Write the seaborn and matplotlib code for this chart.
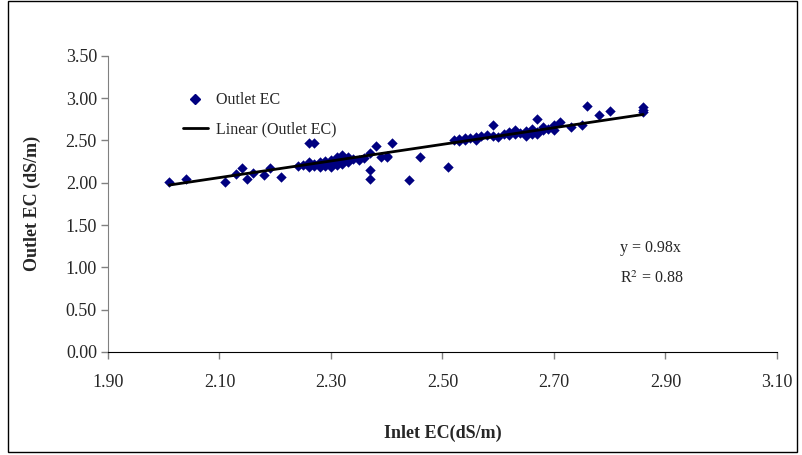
import numpy as np
import pandas as pd
import seaborn as sns
import matplotlib.pyplot as plt
from matplotlib.patches import Rectangle
from matplotlib.lines import Line2D

# Inlet / outlet EC readings (dS/m)
inlet_ec = [2.01, 2.04, 2.11, 2.13, 2.14, 2.15, 2.16, 2.18, 2.19, 2.21,
            2.24, 2.25, 2.26, 2.26, 2.26, 2.27, 2.27, 2.27, 2.28, 2.28,
            2.28, 2.29, 2.29, 2.29, 2.30, 2.30, 2.30, 2.31, 2.31, 2.31,
            2.32, 2.32, 2.32, 2.33, 2.33, 2.34, 2.35, 2.36, 2.37, 2.37,
            2.37, 2.38, 2.39, 2.40, 2.40, 2.41, 2.44, 2.46, 2.51, 2.52,
            2.53, 2.53, 2.54, 2.54, 2.55, 2.56, 2.56, 2.57, 2.58, 2.59,
            2.59, 2.60, 2.61, 2.62, 2.62, 2.63, 2.63, 2.64, 2.65, 2.65,
            2.66, 2.66, 2.67, 2.67, 2.67, 2.68, 2.68, 2.69, 2.70, 2.70,
            2.71, 2.73, 2.75, 2.76, 2.78, 2.80, 2.86, 2.86, 2.86]
outlet_ec = [2.01, 2.04, 2.01, 2.10, 2.17, 2.04, 2.12, 2.09, 2.17, 2.07,
             2.20, 2.21, 2.47, 2.25, 2.18, 2.47, 2.22, 2.20, 2.25, 2.19,
             2.22, 2.26, 2.20, 2.23, 2.27, 2.22, 2.19, 2.30, 2.24, 2.21,
             2.33, 2.26, 2.22, 2.30, 2.25, 2.28, 2.27, 2.29, 2.15, 2.04,
             2.35, 2.43, 2.30, 2.32, 2.30, 2.47, 2.03, 2.30, 2.19, 2.50,
             2.52, 2.49, 2.53, 2.50, 2.53, 2.51, 2.54, 2.55, 2.56, 2.68,
             2.55, 2.54, 2.57, 2.60, 2.56, 2.62, 2.58, 2.59, 2.55, 2.61,
             2.63, 2.57, 2.75, 2.60, 2.58, 2.66, 2.62, 2.64, 2.68, 2.62,
             2.72, 2.66, 2.68, 2.91, 2.80, 2.85, 2.90, 2.86, 2.84]

x_ticks = [1.90, 2.10, 2.30, 2.50, 2.70, 2.90, 3.10]
y_ticks = [0.00, 0.50, 1.00, 1.50, 2.00, 2.50, 3.00, 3.50]
fit_label = "y = 0.98x"
r2_label = "R$^2$ = 0.88"

df = pd.DataFrame({"inlet": inlet_ec, "outlet": outlet_ec})

sns.set_style("white")
plt.rcParams["font.family"] = ["Liberation Serif", "DejaVu Serif"]
plt.rcParams["mathtext.fontset"] = "stix"

fig = plt.figure(figsize=(8.03, 4.55), dpi=100)
ax = fig.add_axes([0.1345, 0.2264, 0.833, 0.651])

navy = "#000080"
sns.scatterplot(data=df, x="inlet", y="outlet", marker="D", s=28,
                color=navy, edgecolor=navy, linewidth=0, ax=ax, zorder=3)

# linear trend forced through the origin
slope = np.sum(df.inlet * df.outlet) / np.sum(df.inlet ** 2)
xs = np.array([df.inlet.min(), df.inlet.max()])
ax.plot(xs, slope * xs, color="black", lw=2, zorder=4)

ax.set_xlim(1.90, 3.10)
ax.set_ylim(0, 3.50)
ax.set_xticks(x_ticks)
ax.set_yticks(y_ticks)
ax.set_xticklabels([f"{t:.2f}" for t in x_ticks], fontsize=13)
ax.set_yticklabels([f"{t:.2f}" for t in y_ticks], fontsize=13)
ax.tick_params(direction="out", length=5, width=1, color="#808080",
               bottom=True, left=True)
ax.tick_params(axis="x", pad=11)
ax.tick_params(axis="y", pad=3)
for side in ["top", "right"]:
    ax.spines[side].set_visible(False)
ax.spines["left"].set_color("#808080")
ax.spines["bottom"].set_color("black")

ax.set_xlabel("Inlet EC(dS/m)", fontsize=13, fontweight="bold")
ax.set_ylabel("Outlet EC (dS/m)", fontsize=13, fontweight="bold")
ax.xaxis.set_label_coords(0.5, -0.245)
ax.yaxis.set_label_coords(-0.10, 0.5)

handles = [Line2D([], [], marker="D", color=navy, ls="none", markersize=5.5),
           Line2D([], [], color="black", lw=2)]
ax.legend(handles, ["Outlet EC", "Linear (Outlet EC)"], loc="upper left",
          bbox_to_anchor=(0.09, 0.925), frameon=False, fontsize=11.5,
          handlelength=1.6, handletextpad=0.5, labelspacing=0.8)

ax.text(0.765, 0.338, fit_label, transform=ax.transAxes, fontsize=11.5)
ax.text(0.765, 0.233, r2_label, transform=ax.transAxes, fontsize=11.5)

fig.patches.append(Rectangle((0.01, 0.007), 0.982, 0.99, transform=fig.transFigure,
                             fill=False, edgecolor="black", lw=1))

fig.savefig("out.png", dpi=100)
